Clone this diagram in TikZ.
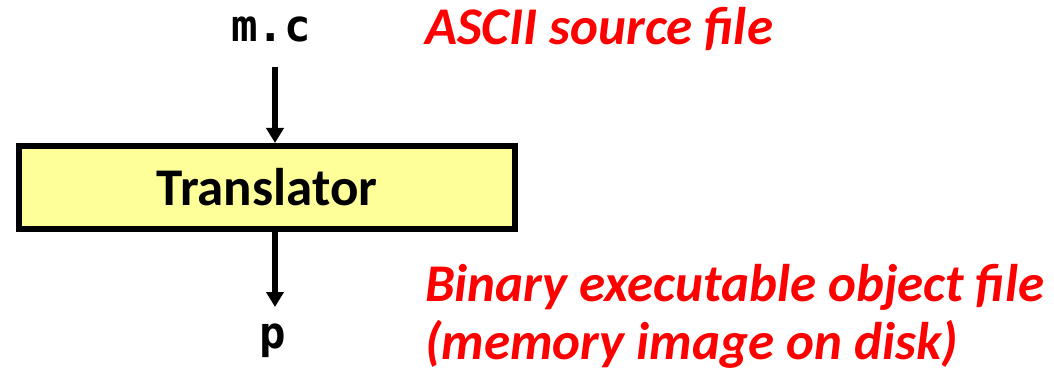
\documentclass[tikz,border=0pt]{standalone}
\usepackage{fontspec}
\setmainfont{Carlito}
\newfontfamily\codefont{DejaVu Sans Mono}
\usetikzlibrary{arrows.meta}
\definecolor{boxfill}{RGB}{255,255,153}
\definecolor{notered}{RGB}{255,0,0}
\tikzset{
  flow/.style={line width=6pt, -{Triangle[width=17pt,length=15pt]}},
  codetext/.style={inner sep=0pt, font=\codefont\bfseries\fontsize{44}{50}\selectfont},
  stagebox/.style={draw=black, line width=6pt, fill=boxfill},
  note/.style={inner sep=0pt, text=notered, anchor=base west,
    font=\bfseries\itshape\fontsize{53}{61}\selectfont},
}
\begin{document}
\begin{tikzpicture}[x=1pt, y=-1pt]
\useasboundingbox (0,0) rectangle (1054,374);
% translator stage
\draw[stagebox] (19,146) rectangle (515,229);
\node[inner sep=0pt, anchor=base, font=\bfseries\fontsize{53}{60}\selectfont] (tr) at (267,205) {Translator};
\coordinate (boxtop) at (275,143);
\coordinate (boxbot) at (275,232);
% input and output files
\node[codetext, anchor=base] (src) at (271,42) {m.c};
\node[codetext, anchor=base] (exe) at (273,348) {p};
\coordinate (srcend) at (275,67);
\coordinate (exetip) at (275,307);
\draw[flow] (srcend) -- (boxtop);
\draw[flow] (boxbot) -- (exetip);
% annotations
\node[note] (asc) at (425,45) {ASCII source file};
\node[note] (bin) at (425,301) {Binary executable object file};
\node[note] (mem) at (425,359) {(memory image on disk)};
\end{tikzpicture}
\end{document}
